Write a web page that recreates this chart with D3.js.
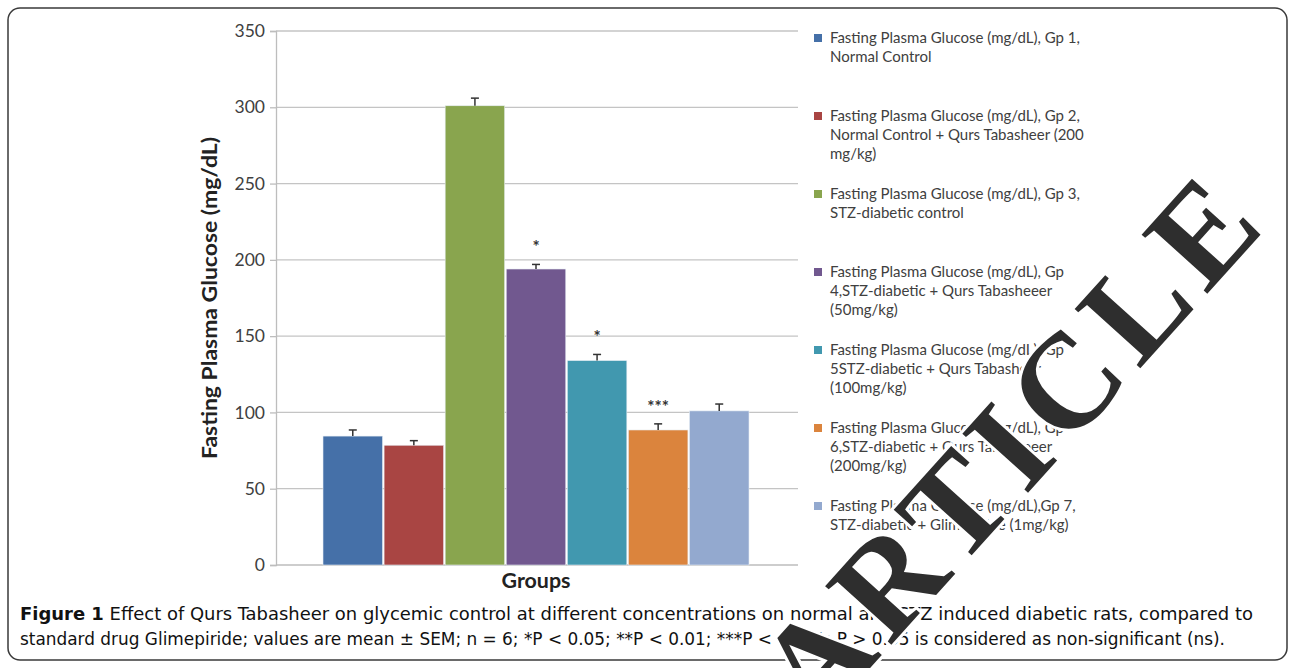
<!DOCTYPE html>
<html>
<head>
<meta charset="utf-8">
<script src="https://cdn.jsdelivr.net/npm/d3@7/dist/d3.min.js"></script>
<style>
  body { margin: 0; background: #fff; }
  svg { display: block; }
</style>
</head>
<body>
<svg id="chart" width="1295" height="668"></svg>
<script>
// Fasting plasma glucose per treatment group (mean and SEM, mg/dL)
const groups = ["Gp 1", "Gp 2", "Gp 3", "Gp 4", "Gp 5", "Gp 6", "Gp 7"];
const glucose = [84.5, 78.5, 301, 194, 134, 88.5, 101];
const sem = [4, 3, 5, 3, 4, 4, 4.5];
const significance = ["", "", "", "*", "*", "***", ""];
const barColors = ["#4570a8", "#a94543", "#89a54e", "#71588f", "#4198af", "#db843d", "#93a9cf"];
const yTicks = [0, 50, 100, 150, 200, 250, 300, 350];
const category = ["Groups"];
const legendLabels = [
  ["Fasting Plasma Glucose (mg/dL), Gp 1,", "Normal Control"],
  ["Fasting Plasma Glucose (mg/dL), Gp 2,", "Normal Control + Qurs Tabasheer (200", "mg/kg)"],
  ["Fasting Plasma Glucose (mg/dL), Gp 3,", "STZ-diabetic control"],
  ["Fasting Plasma Glucose (mg/dL), Gp", "4,STZ-diabetic + Qurs Tabasheeer", "(50mg/kg)"],
  ["Fasting Plasma Glucose (mg/dL), Gp", "5STZ-diabetic + Qurs Tabasheer", "(100mg/kg)"],
  ["Fasting Plasma Glucose (mg/dL), Gp", "6,STZ-diabetic + Qurs Tabasheeer", "(200mg/kg)"],
  ["Fasting Plasma Glucose (mg/dL),Gp 7,", "STZ-diabetic + Glimepiride (1mg/kg)"]
];
const yTitle = "Fasting Plasma Glucose (mg/dL)";
const captionHead = "Figure 1";
const captionLines = [
  " Effect of Qurs Tabasheer on glycemic control at different concentrations on normal and STZ induced diabetic rats, compared to",
  "standard drug Glimepiride; values are mean \u00b1 SEM; n = 6; *P < 0.05; **P < 0.01; ***P < 0.001; P > 0.05 is considered as non-significant (ns)."
];
const stampText = "ARTICLE";

const svg = d3.select("#chart");
const chartFont = "Lato, 'Open Sans', sans-serif";

// Figure frame
svg.append("rect")
  .attr("x", 8).attr("y", 8).attr("width", 1279).attr("height", 652)
  .attr("rx", 12).attr("ry", 12)
  .attr("fill", "#fff").attr("stroke", "#3a3a3a").attr("stroke-width", 1.5);

const plot = { left: 276, right: 798, top: 31, bottom: 565 };

const y = d3.scaleLinear().domain([0, 350]).range([plot.bottom, plot.top]);
const x0 = d3.scaleBand().domain(category).range([plot.left, plot.right]).padding(0);
const x1 = d3.scaleBand().domain(groups)
  .range([47, x0.bandwidth() - 49]).paddingInner(0.025).paddingOuter(0);

// Gridlines
svg.append("g")
  .selectAll("line").data(yTicks.filter(d => d > 0)).join("line")
  .attr("x1", plot.left).attr("x2", plot.right)
  .attr("y1", d => y(d)).attr("y2", d => y(d))
  .attr("stroke", "#c4c4c4").attr("stroke-width", 1.3);

// Y axis
const yAxis = svg.append("g")
  .attr("transform", `translate(${plot.left},0)`)
  .call(d3.axisLeft(y).tickValues(yTicks).tickSize(6).tickPadding(5));
yAxis.select(".domain").attr("stroke", "#bdbdbd").attr("stroke-width", 1.3);
yAxis.selectAll(".tick line").attr("stroke", "#bdbdbd").attr("stroke-width", 1.3);
yAxis.selectAll(".tick text")
  .attr("font-family", chartFont).attr("font-size", 17.5).attr("fill", "#404040");

// X baseline
svg.append("line")
  .attr("x1", plot.left).attr("x2", plot.right)
  .attr("y1", y(0)).attr("y2", y(0))
  .attr("stroke", "#bdbdbd").attr("stroke-width", 1.3);

// Bars
const gBars = svg.append("g").attr("transform", `translate(${x0("Groups")},0)`);
gBars.selectAll("rect").data(groups).join("rect")
  .attr("x", d => x1(d))
  .attr("width", x1.bandwidth())
  .attr("y", (d, i) => y(glucose[i]))
  .attr("height", (d, i) => y(0) - y(glucose[i]))
  .attr("fill", (d, i) => barColors[i])
  .attr("stroke", "#e8eef4").attr("stroke-width", 0.6);

// Error bars (upper SEM)
const err = gBars.append("g").attr("stroke", "#333").attr("stroke-width", 1.5);
groups.forEach((g, i) => {
  const cx = x1(g) + x1.bandwidth() / 2;
  err.append("line")
    .attr("x1", cx).attr("x2", cx)
    .attr("y1", y(glucose[i])).attr("y2", y(glucose[i] + sem[i]));
  err.append("line")
    .attr("x1", cx - 4).attr("x2", cx + 4)
    .attr("y1", y(glucose[i] + sem[i])).attr("y2", y(glucose[i] + sem[i]));
});

// Significance markers
gBars.selectAll("text.sig").data(groups).join("text")
  .attr("class", "sig")
  .attr("x", d => x1(d) + x1.bandwidth() / 2)
  .attr("y", (d, i) => y(glucose[i] + sem[i]) - 11)
  .attr("text-anchor", "middle")
  .attr("font-family", chartFont).attr("font-size", 17).attr("font-weight", 700).attr("fill", "#333")
  .text((d, i) => significance[i]);

// Axis titles
svg.append("text")
  .attr("transform", `translate(217,298) rotate(-90)`)
  .attr("text-anchor", "middle")
  .attr("font-family", chartFont).attr("font-weight", 700).attr("font-size", 21)
  .attr("fill", "#222")
  .attr("textLength", 322).attr("lengthAdjust", "spacingAndGlyphs")
  .text(yTitle);

svg.append("text")
  .attr("x", 536).attr("y", 588)
  .attr("text-anchor", "middle")
  .attr("font-family", chartFont).attr("font-weight", 700).attr("font-size", 21)
  .attr("fill", "#222")
  .attr("textLength", 69).attr("lengthAdjust", "spacingAndGlyphs")
  .text(category[0]);

// Legend
const legend = svg.append("g").attr("transform", "translate(814,0)");
legendLabels.forEach((lines, i) => {
  const top = 38 + i * 78;
  legend.append("rect")
    .attr("x", 0).attr("y", top - 4).attr("width", 8).attr("height", 8)
    .attr("fill", barColors[i]);
  const t = legend.append("text")
    .attr("font-family", chartFont).attr("font-size", 15).attr("fill", "#404040");
  lines.forEach((ln, j) => {
    t.append("tspan").attr("x", 16).attr("y", top + 5 + j * 19).text(ln);
  });
});

// Caption
const capFont = "'Liberation Sans Narrow', 'DejaVu Sans Condensed', sans-serif";
const cap1 = svg.append("text")
  .attr("x", 20).attr("y", 620)
  .attr("font-family", capFont).attr("font-size", 18).attr("fill", "#111")
  .attr("textLength", 1233).attr("lengthAdjust", "spacingAndGlyphs");
cap1.append("tspan").attr("font-weight", 700).text(captionHead);
cap1.append("tspan").text(captionLines[0]);
svg.append("text")
  .attr("x", 20).attr("y", 645)
  .attr("font-family", capFont).attr("font-size", 18).attr("fill", "#111")
  .attr("textLength", 1205).attr("lengthAdjust", "spacingAndGlyphs")
  .text(captionLines[1]);

// Diagonal stamp over the figure
svg.append("text")
  .attr("transform", "translate(1045,474) rotate(-48)")
  .attr("text-anchor", "middle")
  .attr("font-family", "'Liberation Serif', 'DejaVu Serif', serif")
  .attr("font-weight", 700).attr("font-size", 135)
  .attr("letter-spacing", 10)
  .attr("fill", "#2e2e2e")
  .attr("stroke", "#fff").attr("stroke-width", 6).attr("paint-order", "stroke")
  .text(stampText);
</script>
</body>
</html>
